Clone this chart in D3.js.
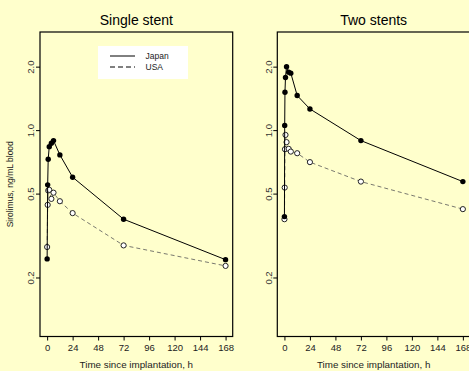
<!DOCTYPE html>
<html>
<head>
<meta charset="utf-8">
<script src="https://cdn.jsdelivr.net/npm/d3@7"></script>
<style>
  html, body { margin: 0; padding: 0; background: #ffffcc; }
  svg { display: block; font-family: "Liberation Sans", Arial, sans-serif; }
</style>
</head>
<body>
<svg id="chart"></svg>
<script>
const panelTitles = ["Single stent", "Two stents"];

const timesSingle = [0, 0.5, 1, 2, 4, 6, 12, 24, 72, 168];
const japanSingle = [0.245, 0.55, 0.728, 0.835, 0.867, 0.892, 0.763, 0.598, 0.378, 0.243];
const usaSingle = [0.279, 0.442, 0.517, 0.521, 0.472, 0.505, 0.46, 0.404, 0.284, 0.227];

const timesTwo = [0, 0.25, 0.5, 1, 2, 4, 6, 12, 24, 72, 168];
const japanTwo = [0.389, 1.053, 1.512, 1.778, 2.0, 1.883, 1.863, 1.459, 1.26, 0.892, 0.57];
const usaTwo = [0.378, 0.534, 0.812, 0.949, 0.877, 0.815, 0.791, 0.777, 0.705, 0.57, 0.422];

const xTicks = [0, 24, 48, 72, 96, 120, 144, 168];
const yTicks = [0.2, 0.5, 1.0, 2.0];
const seriesNames = ["Japan", "USA"];

const width = 469, height = 371;
const svg = d3.select("#chart").attr("width", width).attr("height", height);
svg.append("rect").attr("width", width).attr("height", height).attr("fill", "#ffffcc");

const plotTop = 32, plotBottom = 336.5, plotW = 192.7;
const panelLeft = [40, 277.3];

const y = d3.scaleLog().domain([0.105, 2.92]).range([plotBottom, plotTop]);

const panels = [
  { title: panelTitles[0], t: timesSingle, jp: japanSingle, us: usaSingle },
  { title: panelTitles[1], t: timesTwo, jp: japanTwo, us: usaTwo }
];

panels.forEach((p, i) => {
  const left = panelLeft[i];
  const x = d3.scaleLinear().domain([-6.72, 174.72]).range([left, left + plotW]);
  const g = svg.append("g");

  g.append("text")
    .attr("x", left + plotW / 2).attr("y", 25)
    .attr("text-anchor", "middle").attr("font-size", 14)
    .text(p.title);

  // x axis
  const xa = g.append("g").attr("transform", `translate(0,${plotBottom})`)
    .call(d3.axisBottom(x).tickValues(xTicks).tickSize(4).tickPadding(4));
  xa.select(".domain").remove();
  xa.selectAll("text").attr("font-size", 9.5).attr("fill", "#222");
  g.append("text")
    .attr("x", left + plotW / 2).attr("y", 368)
    .attr("text-anchor", "middle").attr("font-size", 9.8).attr("fill", "#222")
    .text("Time since implantation, h");

  // y axis, labels turned on their side
  const ya = g.append("g").attr("transform", `translate(${left},0)`)
    .call(d3.axisLeft(y).tickValues(yTicks).tickFormat(d3.format(".1f")).tickSize(4));
  ya.select(".domain").remove();
  ya.selectAll(".tick text")
    .attr("x", 0).attr("dy", "0.35em")
    .attr("font-size", 9.5).attr("fill", "#333")
    .attr("text-anchor", "middle")
    .attr("transform", "translate(-9,0) rotate(-90)");

  if (i === 0) {
    g.append("text")
      .attr("transform", `translate(13,${(plotTop + plotBottom) / 2}) rotate(-90)`)
      .attr("text-anchor", "middle").attr("font-size", 8.5).attr("fill", "#222")
      .text("Sirolimus, ng/mL blood");
  }

  // box
  g.append("rect")
    .attr("x", left).attr("y", plotTop).attr("width", plotW).attr("height", plotBottom - plotTop)
    .attr("fill", "none").attr("stroke", "#000").attr("stroke-width", 1.2);

  const line = d3.line().x(d => x(d[0])).y(d => y(d[1]));
  const us = p.t.map((t, k) => [t, p.us[k]]);
  const jp = p.t.map((t, k) => [t, p.jp[k]]);

  g.append("path").datum(us).attr("d", line)
    .attr("fill", "none").attr("stroke", "#555").attr("stroke-width", 0.8)
    .attr("stroke-dasharray", "4,3");
  g.selectAll(".us").data(us).enter().append("circle")
    .attr("cx", d => x(d[0])).attr("cy", d => y(d[1])).attr("r", 2.6)
    .attr("fill", "#fff").attr("stroke", "#222").attr("stroke-width", 1);

  g.append("path").datum(jp).attr("d", line)
    .attr("fill", "none").attr("stroke", "#000").attr("stroke-width", 1);
  g.selectAll(".jp").data(jp).enter().append("circle")
    .attr("cx", d => x(d[0])).attr("cy", d => y(d[1])).attr("r", 2.7)
    .attr("fill", "#000");
});

// legend
const lg = svg.append("g");
lg.append("rect").attr("x", 98).attr("y", 46).attr("width", 90).attr("height", 33).attr("fill", "#fff");
lg.append("line").attr("x1", 110).attr("x2", 135).attr("y1", 56).attr("y2", 56)
  .attr("stroke", "#000").attr("stroke-width", 1);
lg.append("line").attr("x1", 110).attr("x2", 135).attr("y1", 67).attr("y2", 67)
  .attr("stroke", "#000").attr("stroke-width", 1).attr("stroke-dasharray", "5,3");
seriesNames.forEach((n, k) => {
  lg.append("text").attr("x", 145.5).attr("y", 59 + k * 11)
    .attr("font-size", 8.5).attr("fill", "#222").text(n);
});
</script>
</body>
</html>
